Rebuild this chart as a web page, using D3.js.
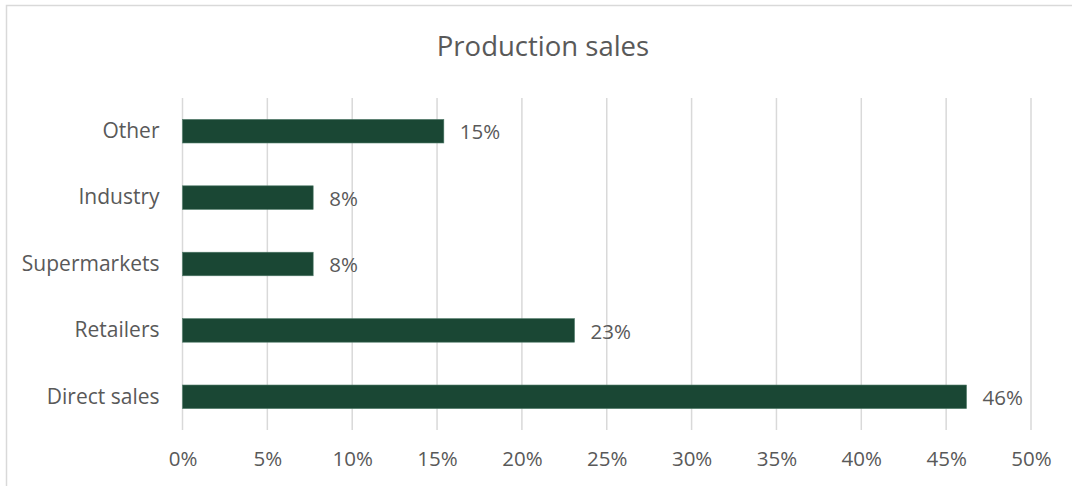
<!DOCTYPE html>
<html>
<head>
<meta charset="utf-8">
<script src="https://cdn.jsdelivr.net/npm/d3@7"></script>
<style>
  html, body { margin: 0; padding: 0; background: #ffffff; }
  svg { display: block; }
  text { font-family: "Open Sans", "Liberation Sans", sans-serif; fill: #595959; }
</style>
</head>
<body>
<svg id="chart" width="1072" height="486"></svg>
<script>
const categories = ["Other", "Industry", "Supermarkets", "Retailers", "Direct sales"];
const values = [0.154, 0.077, 0.077, 0.231, 0.462];
const labels = ["15%", "8%", "8%", "23%", "46%"];
const xTicks = [0, 0.05, 0.10, 0.15, 0.20, 0.25, 0.30, 0.35, 0.40, 0.45, 0.50];
const title = "Production sales";

const svg = d3.select("#chart");
const W = 1072, H = 486;

svg.append("rect").attr("width", W).attr("height", H).attr("fill", "#fff");
svg.append("rect")
  .attr("x", 6.5).attr("y", 5.5)
  .attr("width", W + 20).attr("height", H + 20)
  .attr("fill", "none").attr("stroke", "#d9d9d9").attr("stroke-width", 1.5);

const x = d3.scaleLinear().domain([0, 0.5]).range([182.5, 1031]);
const y = d3.scaleBand().domain(categories).range([98, 430]).paddingInner(0.645).paddingOuter(0.3225);

svg.append("g").selectAll("line").data(xTicks).join("line")
  .attr("x1", d => x(d)).attr("x2", d => x(d))
  .attr("y1", 98).attr("y2", 430)
  .attr("stroke", "#d9d9d9").attr("stroke-width", 1.5);

svg.append("text")
  .attr("x", 543).attr("y", 56)
  .attr("text-anchor", "middle")
  .style("font-size", "27.5px")
  .text(title);

svg.append("g").selectAll("rect").data(categories).join("rect")
  .attr("x", x(0))
  .attr("y", (d) => y(d))
  .attr("width", (d, i) => x(values[i]) - x(0))
  .attr("height", y.bandwidth())
  .attr("fill", "#1a4734")
  .attr("stroke", "#4f7a68").attr("stroke-width", 0.6);

svg.append("g").selectAll("text").data(categories).join("text")
  .attr("x", (d, i) => x(values[i]) + 16)
  .attr("y", d => y(d) + y.bandwidth() / 2 + 1)
  .attr("dy", "0.35em")
  .style("font-size", "20.5px")
  .text((d, i) => labels[i]);

const yAxis = d3.axisLeft(y).tickSize(0).tickPadding(23);
const gy = svg.append("g").attr("transform", `translate(${x(0)},0)`).call(yAxis);
gy.select(".domain").remove();
gy.selectAll("text").style("font-size", "21px").style("font-family", "'Open Sans', sans-serif").attr("fill", "#595959");

const xAxis = d3.axisBottom(x).tickValues(xTicks).tickFormat(d3.format(".0%")).tickSize(0).tickPadding(0);
const gx = svg.append("g").attr("transform", `translate(0,${451})`).call(xAxis);
gx.select(".domain").remove();
gx.selectAll("text").style("font-size", "20.5px").style("font-family", "'Open Sans', sans-serif").attr("fill", "#595959");
</script>
</body>
</html>
